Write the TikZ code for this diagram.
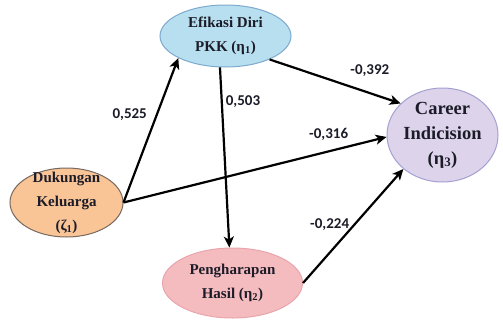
\documentclass[tikz,border=0pt]{standalone}
\usepackage{fontspec}
\setmainfont{Liberation Serif}
\newfontfamily\coeffont{Carlito}
\usepackage{xcolor}
\usetikzlibrary{shapes.geometric,arrows.meta}

\definecolor{efifill}{RGB}{184,223,240}
\definecolor{efiline}{RGB}{125,170,205}
\definecolor{carfill}{RGB}{221,212,236}
\definecolor{carline}{RGB}{165,160,210}
\definecolor{dukfill}{RGB}{249,196,150}
\definecolor{dukline}{RGB}{120,105,95}
\definecolor{pengfill}{RGB}{245,188,192}
\definecolor{pengline}{RGB}{232,165,172}
\definecolor{ink}{RGB}{28,28,40}

\begin{document}
\begin{tikzpicture}[x=1pt, y=-1pt,
    latent/.style={ellipse, line width=1pt, inner sep=0pt, align=center, text=ink,
      font=\bfseries\fontsize{15}{24}\selectfont},
    effect/.style={->, line width=2.2pt},
    coef/.style={inner sep=1pt, text=ink, font=\coeffont\bfseries\fontsize{15}{17}\selectfont},
    >={Stealth[length=11pt,width=10pt,inset=3pt]}]
    \useasboundingbox (0,0) rectangle (503,324);
    \node[latent, fill=efifill, draw=efiline, minimum width=131pt, minimum height=62pt] (efi) at (225.5,36) {Efikasi Diri\\PKK (η\textsubscript{1})};
    \node[latent, fill=carfill, draw=carline, minimum width=111pt, minimum height=94pt, inner ysep=-4pt,
      font=\bfseries\fontsize{18.5}{25}\selectfont] (car) at (442.5,135) {Career\\Indicision\\(η\textsubscript{3})};
    \node[latent, fill=dukfill, draw=dukline, minimum width=113pt, minimum height=69pt, inner ysep=-8pt] (duk) at (66.5,202.5) {Dukungan\\Keluarga\\(ζ\textsubscript{1})};
    \node[latent, fill=pengfill, draw=pengline, minimum width=140pt, minimum height=70pt] (peng) at (232.5,283) {Pengharapan\\Hasil (η\textsubscript{2})};
    \draw[effect] (duk.east) -- node[coef, pos=0.61, left=8pt] {0,525} (efi.205);
    \draw[effect] (efi.260) -- node[coef, pos=0.19, right=2pt] {0,503} (peng.95);
    \draw[effect] (efi.-28) -- node[coef, pos=0.765, above=14pt] {-0,392} (car.143);
    \draw[effect] (duk.east) -- node[coef, pos=0.78, above=9pt] {-0,316} (car.182);
    \draw[effect] (peng.east) -- node[coef, pos=0.51, left=3pt] {-0,224} (car.221);
  \end{tikzpicture}
\end{document}
